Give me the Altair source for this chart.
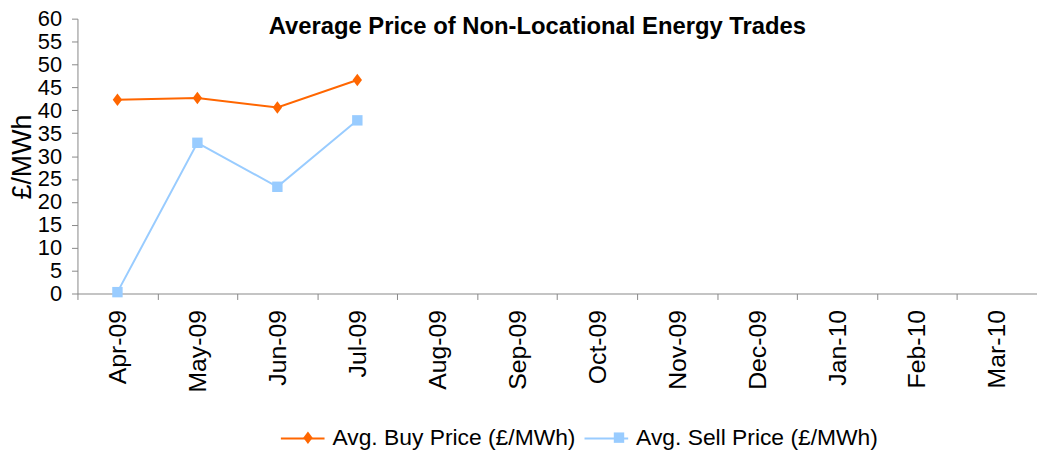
import altair as alt
import pandas as pd

months = ["Apr-09", "May-09", "Jun-09", "Jul-09", "Aug-09", "Sep-09",
          "Oct-09", "Nov-09", "Dec-09", "Jan-10", "Feb-10", "Mar-10"]
buy_price = [42.3, 42.7, 40.6, 46.6, None, None, None, None, None, None, None, None]
sell_price = [0.3, 32.9, 23.3, 37.8, None, None, None, None, None, None, None, None]
series_names = ["Avg. Buy Price (£/MWh)", "Avg. Sell Price (£/MWh)"]
series_colors = ["#FF6600", "#99CCFF"]
y_ticks = list(range(0, 61, 5))

df = pd.DataFrame({
    "month": months * 2,
    "value": buy_price + sell_price,
    "series": [series_names[0]] * len(months) + [series_names[1]] * len(months),
})

FONT = "Liberation Sans"

x_enc = alt.X(
    "month:N",
    sort=months,
    scale=alt.Scale(type="band", domain=months, paddingInner=0, paddingOuter=0),
    axis=alt.Axis(
        title=None, labelAngle=270, tickBand="extent", tickSize=6,
        labelPadding=10, labelFont=FONT, labelFontSize=25,
        labelColor="black", domainColor="#888888", tickColor="#888888",
        grid=False, labelOverlap=False,
    ),
)
y_enc = alt.Y(
    "value:Q",
    scale=alt.Scale(domain=[0, 60], nice=False, zero=True),
    axis=alt.Axis(
        values=y_ticks, title="£/MWh", grid=False, tickSize=6, labelPadding=10,
        labelFont=FONT, labelFontSize=22, labelColor="black", labelOverlap=False,
        domainColor="#888888", tickColor="#888888",
        titleFont=FONT, titleFontSize=27, titleFontWeight="normal",
        titleColor="black", titleAngle=270, titleX=-55, titleY=139,
        titleAlign="center", titleBaseline="middle",
    ),
)
color_scale = alt.Scale(domain=series_names, range=series_colors)

legend_common = dict(
    title=None, orient="none", direction="horizontal",
    labelFont=FONT, labelFontSize=23, labelLimit=0, padding=0,
)

lines = alt.Chart(df).mark_line(strokeWidth=2).encode(
    x=x_enc, y=y_enc,
    color=alt.Color("series:N", scale=color_scale, legend=alt.Legend(
        legendX=204, legendY=400, symbolType="stroke", symbolSize=1936,
        symbolStrokeWidth=2, labelOffset=7, columnPadding=5,
        labelColor="black", **legend_common)),
)

marker_legend = alt.Legend(
    legendX=220.75, legendY=410.5, symbolSize=110, symbolStrokeWidth=0,
    labelOffset=7, columnPadding=38.5, labelOpacity=0, **legend_common)

points = alt.Chart(df).mark_point(filled=True, opacity=1).encode(
    x=x_enc, y=y_enc,
    color=alt.Color("series:N", scale=color_scale, legend=marker_legend),
    shape=alt.Shape("series:N", scale=alt.Scale(
        domain=series_names,
        range=["M0,-1.2L0.9,0L0,1.2L-0.9,0Z", "M-1,-1L1,-1L1,1L-1,1Z"]), legend=marker_legend),
    size=alt.value(110),
)

chart = alt.layer(lines, points).resolve_legend(
    color="independent", shape="independent"
).properties(
    width=967, height=277,
    padding={"left": 70, "top": 9, "right": 0, "bottom": 160},
    autosize=alt.AutoSizeParams(type="none"),
    title=alt.TitleParams(
        "Average Price of Non-Locational Energy Trades",
        font=FONT, fontSize=24, fontWeight="bold", color="black",
        anchor="middle", frame="group", baseline="alphabetic", offset=-50, dx=-20,
    ),
).configure_view(stroke=None)

chart.save("out.html", embed_options={"renderer": "svg", "actions": False})
